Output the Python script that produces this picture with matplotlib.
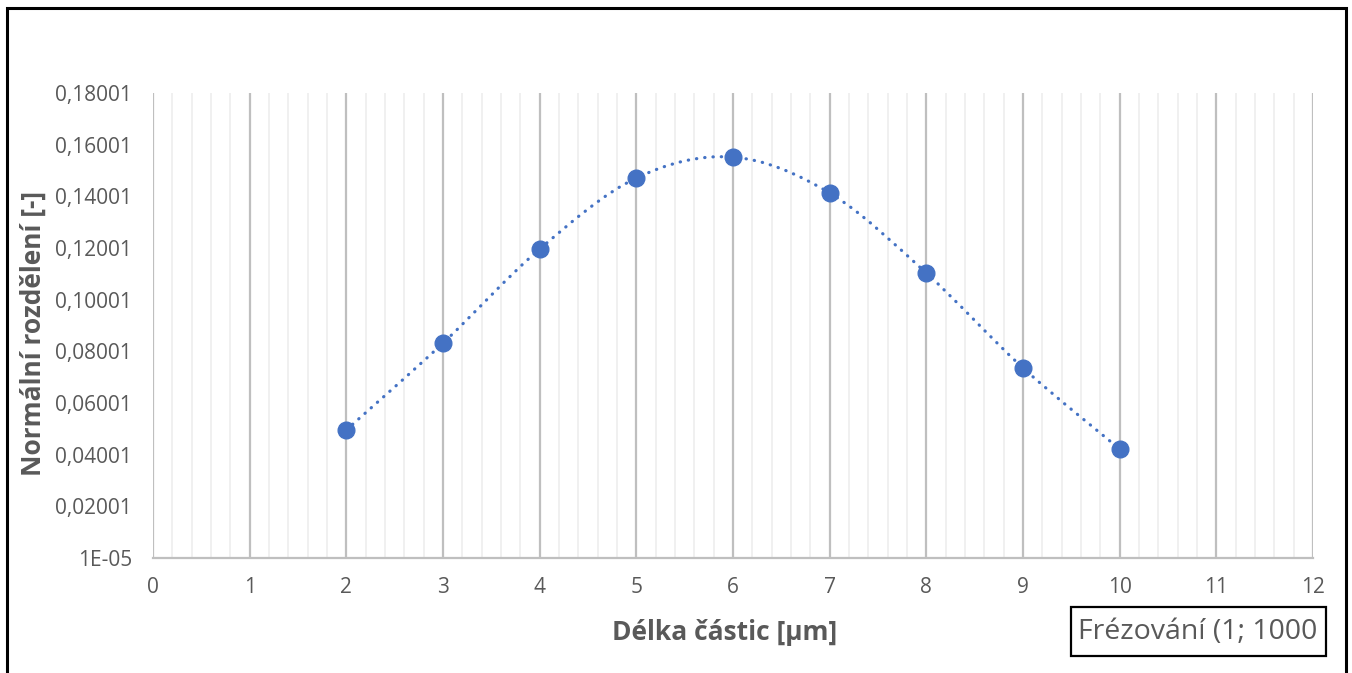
import matplotlib
matplotlib.use("Agg")
import matplotlib.pyplot as plt
from matplotlib.path import Path
from matplotlib.patches import PathPatch, Rectangle
import numpy as np

# Particle length [µm] and normal distribution values
lengths = [2, 3, 4, 5, 6, 7, 8, 9, 10]
density = [0.0496, 0.0832, 0.1196, 0.1471, 0.1552, 0.1413, 0.1103, 0.0736, 0.0422]

y_ticks = [0.00001, 0.02001, 0.04001, 0.06001, 0.08001, 0.10001,
           0.12001, 0.14001, 0.16001, 0.18001]
y_tick_labels = ["1E-05", "0,02001", "0,04001", "0,06001", "0,08001", "0,10001",
                 "0,12001", "0,14001", "0,16001", "0,18001"]
x_ticks = list(range(0, 13))

series_name = "Frézování (1; 1000"
x_title = "Délka částic [µm]"
y_title = "Normální rozdělení [-]"

BLUE = "#4472C4"
TEXT = "#595959"
FONT = ["Open Sans", "DejaVu Sans"]

plt.rcParams["font.family"] = FONT

W, H = 1352, 673
fig = plt.figure(figsize=(W / 100, H / 100), dpi=100)
fig.patch.set_facecolor("white")

# outer chart frame
fig.add_artist(Rectangle((7 / W, -0.05), (1346 - 7) / W, 1.05 - 8 / H,
                         transform=fig.transFigure, fill=False,
                         edgecolor="black", linewidth=2.2, zorder=10))

ax = fig.add_axes([153 / W, (H - 558) / H, (1313 - 153) / W, (558 - 93) / H])
ax.set_xlim(0, 12)
ax.set_ylim(0.00001, 0.18001)

# vertical grid: major every 1, minor every 0.2
ax.set_xticks(x_ticks)
ax.set_xticks(np.arange(0, 12.001, 0.2), minor=True)
ax.grid(which="major", axis="x", color="#BFBFBF", linewidth=1.6, zorder=0)
ax.grid(which="minor", axis="x", color="#EFEFEF", linewidth=1.3, zorder=0)
ax.grid(False, axis="y")
ax.set_axisbelow(True)

for side in ("left", "right", "top"):
    ax.spines[side].set_visible(False)
ax.spines["bottom"].set_color("#BFBFBF")
ax.spines["bottom"].set_linewidth(1.6)

ax.set_yticks(y_ticks)
ax.set_yticklabels(y_tick_labels)
ax.tick_params(axis="both", which="both", length=0, labelsize=15, labelcolor=TEXT)
ax.tick_params(axis="y", pad=15)
ax.tick_params(axis="x", pad=14)

# smoothed connecting line (cubic Bezier segments through the points)
pts = np.column_stack([lengths, density])
verts = [tuple(pts[0])]
codes = [Path.MOVETO]
n = len(pts)
for i in range(n - 1):
    p0 = pts[i - 1] if i > 0 else pts[i]
    p1 = pts[i]
    p2 = pts[i + 1]
    p3 = pts[i + 2] if i + 2 < n else pts[i + 1]
    c1 = p1 + (p2 - p0) / 6.0
    c2 = p2 - (p3 - p1) / 6.0
    verts += [tuple(c1), tuple(c2), tuple(p2)]
    codes += [Path.CURVE4] * 3
curve = PathPatch(Path(verts, codes), fill=False, edgecolor=BLUE,
                  linewidth=2.3, linestyle=(0, (0.1, 2.5)), capstyle="round",
                  zorder=2)
ax.add_patch(curve)

ax.plot(lengths, density, linestyle="none", marker="o", markersize=12,
        color=BLUE, zorder=3, clip_on=False)

# axis titles
fig.text(725 / W, 1 - 633 / H, x_title, fontsize=19, fontweight="bold",
         color=TEXT, ha="center", va="center")
fig.text(33 / W, 1 - 333 / H, y_title, fontsize=19, fontweight="bold",
         color=TEXT, ha="center", va="center", rotation=90)

# series name box
fig.text(1078 / W, 1 - 632 / H, series_name, fontsize=20.5, color=TEXT,
         ha="left", va="center")
fig.add_artist(Rectangle((1071 / W, 1 - 656 / H), (1326 - 1071) / W, (656 - 607) / H,
                         transform=fig.transFigure, fill=False,
                         edgecolor="black", linewidth=1.6, zorder=10))

fig.savefig("out.png", dpi=100, facecolor="white")
